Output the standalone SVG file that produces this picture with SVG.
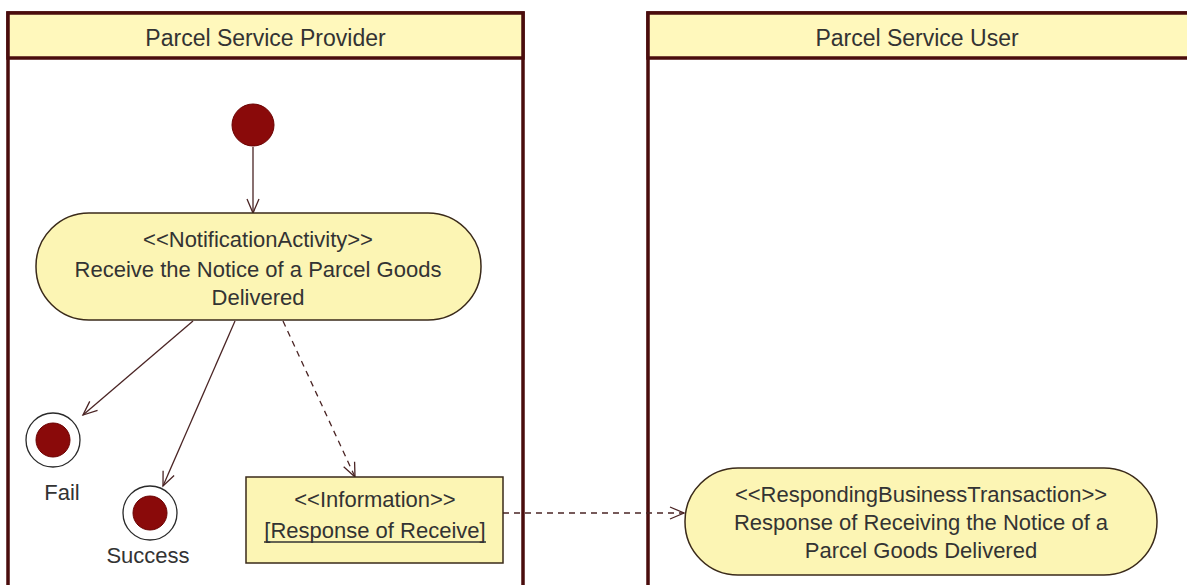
<svg xmlns="http://www.w3.org/2000/svg" width="1187" height="585" viewBox="0 0 1187 585">
<defs>
<style>
.lane{fill:#ffffff;stroke:#4a0c0c;stroke-width:3.5}
.hdr{fill:#fff8bc;stroke:#4a0c0c;stroke-width:3.5}
.node{fill:#fcf5b4;stroke:#3a2a1a;stroke-width:1.5}
.t{font-family:"Liberation Sans",Arial,sans-serif;font-size:22px;fill:#333333;text-anchor:middle}
.h{font-size:23px}
.ul{stroke:#333333;stroke-width:1.3}
.c{fill:none;stroke:#4a2424;stroke-width:1.3}
.d{stroke-dasharray:6 5}
.dot{fill:#8a0a0a;stroke:#6a0000;stroke-width:1}
.ring{fill:#ffffff;stroke:#2a2a2a;stroke-width:1.3}
</style>
<marker id="ah" markerUnits="userSpaceOnUse" markerWidth="18" markerHeight="16" refX="15" refY="7" orient="auto">
<path d="M1,1 L15,7 L1,13" fill="none" stroke="#4a2424" stroke-width="1.3"/>
</marker>
</defs>
<rect width="1187" height="585" fill="#ffffff"/>
<g id="lane-provider">
<rect class="lane" x="8" y="13" width="515" height="590"/>
<rect class="hdr" x="8" y="13" width="515" height="45"/>
<text class="t h" x="265.5" y="46">Parcel Service Provider</text>
</g>
<g id="lane-user">
<rect class="lane" x="648" y="13" width="560" height="590"/>
<rect class="hdr" x="648" y="13" width="560" height="45"/>
<text class="t h" x="917" y="46">Parcel Service User</text>
</g>
<g id="connectors">
<line class="c" x1="253" y1="147" x2="253" y2="213" marker-end="url(#ah)"/>
<line class="c" x1="193" y1="321" x2="83" y2="415" marker-end="url(#ah)"/>
<line class="c" x1="235" y1="321" x2="163" y2="486" marker-end="url(#ah)"/>
<line class="c d" x1="283" y1="321" x2="355" y2="477" marker-end="url(#ah)"/>
<line class="c d" x1="503" y1="513" x2="684" y2="513" marker-end="url(#ah)"/>
</g>
<g id="initial">
<circle class="dot" cx="253" cy="125" r="21"/>
</g>
<g id="notification-activity">
<rect class="node" x="36" y="213" width="445" height="107" rx="53" ry="53"/>
<text class="t" x="258" y="247">&lt;&lt;NotificationActivity&gt;&gt;</text>
<text class="t" x="258" y="277">Receive the Notice of a Parcel Goods</text>
<text class="t" x="258" y="305">Delivered</text>
</g>
<g id="final-fail">
<circle class="ring" cx="53" cy="440" r="27"/>
<circle class="dot" cx="53" cy="440" r="17"/>
<text class="t" x="62" y="500">Fail</text>
</g>
<g id="final-success">
<circle class="ring" cx="150" cy="513" r="27"/>
<circle class="dot" cx="150" cy="513" r="17"/>
<text class="t" x="148" y="563">Success</text>
</g>
<g id="information">
<rect class="node" x="246" y="477" width="257" height="86"/>
<text class="t" x="375" y="507">&lt;&lt;Information&gt;&gt;</text>
<text class="t" x="375" y="538">[Response of Receive]</text>
<line class="ul" x1="264" y1="542" x2="486" y2="542"/>
</g>
<g id="responding-transaction">
<rect class="node" x="685" y="468" width="472" height="107" rx="53" ry="53"/>
<text class="t" x="921" y="502">&lt;&lt;RespondingBusinessTransaction&gt;&gt;</text>
<text class="t" x="921" y="530">Response of Receiving the Notice of a</text>
<text class="t" x="921" y="558">Parcel Goods Delivered</text>
</g>
</svg>
